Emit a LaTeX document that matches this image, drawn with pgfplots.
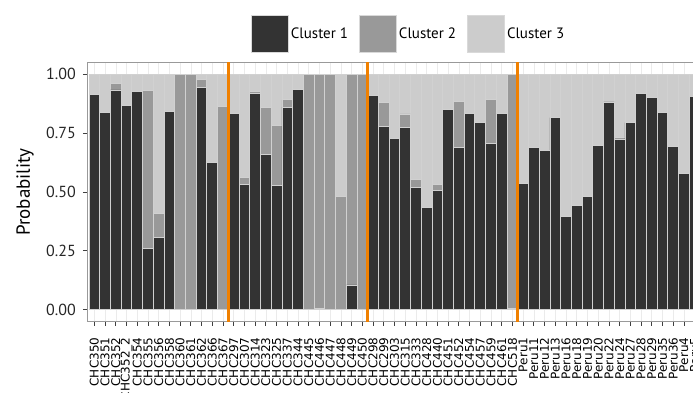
\documentclass[border=0pt]{standalone}
\usepackage{pgfplots}
\pgfplotsset{compat=1.18}
\usepackage{pgfplotstable}
\usepackage{fontspec}
\setmainfont{PT Sans}
\newfontfamily\dejavu{DejaVu Sans}
\definecolor{cA}{HTML}{333333}
\definecolor{cB}{HTML}{999999}
\definecolor{cC}{HTML}{CCCCCC}
\definecolor{sepc}{HTML}{F08000}
\pgfplotstableread{
x c1 c2 c3
0 0.912 0 0.088
1 0.838 0 0.162
2 0.933 0.026 0.041
3 0.867 0 0.133
4 0.926 0 0.074
5 0.262 0.667 0.071
6 0.306 0.104 0.590
7 0.841 0 0.159
8 0 1 0
9 0 1 0
10 0.943 0.033 0.024
11 0.626 0 0.374
12 0 0.862 0.138
13 0.834 0 0.166
14 0.533 0.027 0.440
15 0.919 0.009 0.072
16 0.658 0.201 0.141
17 0.526 0.255 0.219
18 0.860 0.031 0.109
19 0.936 0 0.064
20 0 1 0
21 0.004 0.996 0
22 0 1 0
23 0 0.482 0.518
24 0.105 0.895 0
25 0 1 0
26 0.909 0 0.091
27 0.776 0.104 0.120
28 0.729 0 0.271
29 0.773 0.058 0.169
30 0.519 0.034 0.447
31 0.434 0 0.566
32 0.505 0.026 0.469
33 0.852 0 0.148
34 0.688 0.197 0.115
35 0.834 0 0.166
36 0.794 0 0.206
37 0.706 0.186 0.108
38 0.835 0 0.165
39 0.007 0.993 0
40 0.535 0 0.465
41 0.689 0 0.311
42 0.677 0 0.323
43 0.816 0 0.184
44 0.397 0 0.603
45 0.444 0 0.556
46 0.482 0 0.518
47 0.698 0 0.302
48 0.882 0 0.118
49 0.722 0.009 0.269
50 0.794 0 0.206
51 0.918 0 0.082
52 0.901 0 0.099
53 0.838 0 0.162
54 0.695 0 0.305
55 0.579 0 0.421
56 0.905 0 0.095
}\datatable
\begin{document}
\begin{tikzpicture}
\useasboundingbox (0,0) rectangle (693pt,392pt);
\clip (0,0) rectangle (693pt,392pt);
\begin{axis}[
  at={(87pt,70.5pt)}, anchor=south west,
  scale only axis, width=629.1pt, height=259.1pt,
  xmin=-0.687, xmax=58, ymin=-0.05, ymax=1.05,
  ybar stacked, bar width=1,
  xtick={0,...,56},
  xticklabels={CHC350,CHC351,CHC352,CHC352\_2,CHC354,CHC355,CHC356,CHC358,CHC360,CHC361,CHC362,CHC366,CHC367,CHC297,CHC307,CHC314,CHC323,CHC325,CHC337,CHC344,CHC445,CHC446,CHC447,CHC448,CHC449,CHC450,CHC298,CHC299,CHC303,CHC315,CHC333,CHC428,CHC440,CHC451,CHC452,CHC454,CHC457,CHC459,CHC461,CHC518,Peru1,Peru11,Peru12,Peru13,Peru16,Peru18,Peru19,Peru20,Peru22,Peru24,Peru27,Peru28,Peru29,Peru35,Peru36,Peru4,Peru5},
  ytick={0,0.25,0.5,0.75,1},
  yticklabels={0.00,0.25,0.50,0.75,1.00},
  tick align=outside, tick pos=left, major tick length=4pt,
  tick style={black!75, line width=0.8pt},
  axis line style={black!40, line width=0.8pt},
  xmajorgrids, major grid style={black!8, line width=0.6pt},
  xticklabel style={font=\dejavu\fontsize{12}{14}\selectfont, rotate=90, anchor=east, inner sep=0pt, xshift=-12pt},
  yticklabel style={font=\fontsize{16}{18}\selectfont, anchor=east, inner sep=0pt, xshift=-7pt, text=black!85},
  ylabel={Probability},
  every axis y label/.style={at={(axis description cs:0,0.5)}, xshift=-62pt, rotate=90, anchor=center, font=\fontsize{19}{21}\selectfont},
  legend columns=3,
  legend style={at={(axis description cs:0.2607,1.1096)}, anchor=west, draw=none, fill=none, inner sep=0pt, outer sep=0pt, font=\fontsize{15}{17}\selectfont, /tikz/every even column/.append style={column sep=9pt}, nodes={inner sep=2pt}},
  legend image code/.code={\draw[#1, draw=black!15] (0pt,-18.5pt) rectangle (37pt,18.5pt);},
]
\addplot[fill=cA, draw=black!18, line width=0.9pt] table[x=x, y=c1] {\datatable};
\addplot[fill=cB, draw=black!18, line width=0.9pt] table[x=x, y=c2] {\datatable};
\addplot[fill=cC, draw=black!18, line width=0.9pt] table[x=x, y=c3] {\datatable};
\legend{Cluster 1, Cluster 2, Cluster 3}
\coordinate (s1b) at (axis cs:12.5,-0.05);
\coordinate (s1t) at (axis cs:12.5,1.05);
\coordinate (s2b) at (axis cs:25.5,-0.05);
\coordinate (s2t) at (axis cs:25.5,1.05);
\coordinate (s3b) at (axis cs:39.5,-0.05);
\coordinate (s3t) at (axis cs:39.5,1.05);
\end{axis}
\draw[sepc, line width=3pt] (s1b) -- (s1t);
\draw[sepc, line width=3pt] (s2b) -- (s2t);
\draw[sepc, line width=3pt] (s3b) -- (s3t);
\end{tikzpicture}
\end{document}
